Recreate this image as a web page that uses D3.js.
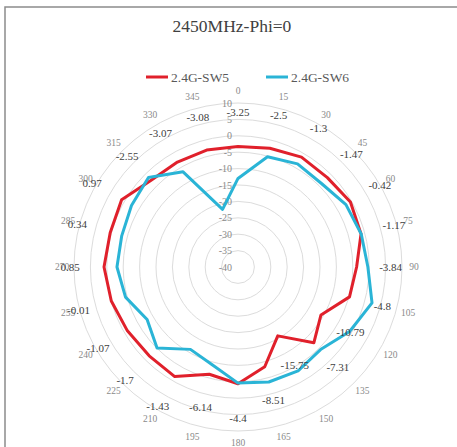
<!DOCTYPE html>
<html><head><meta charset="utf-8">
<script src="https://cdn.jsdelivr.net/npm/d3@7"></script>
<style>
html,body{margin:0;padding:0;background:#fff;}
svg{display:block;}
</style></head>
<body>
<svg id="chart" width="457" height="447"></svg>
<script>
const angles = [0,15,30,45,60,75,90,105,120,135,150,165,180,195,210,225,240,255,270,285,300,315,330,345];
const sw5 = [-3.25,-2.5,-1.3,-1.47,-0.42,-1.17,-3.84,-4.8,-10.79,-7.31,-15.75,-8.51,-4.4,-6.14,-1.43,-1.7,-1.07,-0.01,0.85,0.34,0.97,-2.55,-3.07,-3.08];
const sw6 = [-13,-5.2,-3.7,-4,-2,-1.1,-0.4,2.3,-0.7,-4.4,-3.4,-3.7,-4.6,-9.2,-11,-5.1,-8,-4.5,-3.1,-3.3,-2.5,-1.4,-6.5,-21.8];
const ringTicks = [-40,-35,-30,-25,-20,-15,-10,-5,0,5,10];
const seriesNames = ["2.4G-SW5","2.4G-SW6"];
const seriesColors = ["#e0202b","#2ab4d6"];
const title = "2450MHz-Phi=0";

const svg = d3.select("#chart");
const cx = 238, cy = 267, R = 164;
const font = "'Liberation Serif', 'DejaVu Serif', serif";

svg.append("rect").attr("x",5).attr("y",7).attr("width",470).attr("height",470)
  .attr("fill","#fff").attr("stroke","#8c8c8c").attr("stroke-width",1.5);

const r = d3.scaleLinear().domain([-40,10]).range([0,R]);
const a = d3.scaleLinear().domain([0,360]).range([0,2*Math.PI]);

const g = svg.append("g").attr("transform",`translate(${cx},${cy})`);

// rings
g.selectAll("circle.ring").data(ringTicks.filter(t=>t>-40)).join("circle")
  .attr("class","ring").attr("r",d=>r(d)).attr("fill","none")
  .attr("stroke","#dcdcdc").attr("stroke-width",1);

// ring labels
g.selectAll("text.rl").data(ringTicks).join("text")
  .attr("class","rl").attr("x",-6).attr("y",d=>-r(d))
  .attr("text-anchor","end").attr("dominant-baseline","central")
  .attr("font-family",font).attr("font-size",10).attr("fill","#8a8a8a")
  .text(d=>d);

// angle labels
g.selectAll("text.al").data(angles).join("text")
  .attr("class","al")
  .attr("x",d=>Math.sin(a(d))*(R+12))
  .attr("y",d=>-Math.cos(a(d))*(R+12))
  .attr("text-anchor","middle").attr("dominant-baseline","central")
  .attr("font-family",font).attr("font-size",9.5).attr("fill","#8a8a8a")
  .text(d=>d);

const line = d3.lineRadial().angle((d,i)=>a(angles[i])).radius(d=>r(d)).curve(d3.curveLinearClosed);

[sw5, sw6].forEach((s,k)=>{
  g.append("path").datum(s).attr("d",line).attr("fill","none")
    .attr("stroke",seriesColors[k]).attr("stroke-width",3).attr("stroke-linejoin","round");
});

// data labels (SW5)
g.selectAll("text.dl").data(sw5).join("text")
  .attr("class","dl")
  .attr("x",(d,i)=>Math.sin(a(angles[i]))*(r(d)+34))
  .attr("y",(d,i)=>-Math.cos(a(angles[i]))*(r(d)+34))
  .attr("text-anchor","middle").attr("dominant-baseline","central")
  .attr("font-family",font).attr("font-size",11).attr("fill","#404040")
  .text(d=>d);

// title
svg.append("text").attr("x",232).attr("y",26).attr("text-anchor","middle")
  .attr("dominant-baseline","central").attr("font-family",font).attr("font-size",17.5)
  .attr("fill","#404040").text(title);

// legend
const legX = [146, 266];
seriesNames.forEach((n,k)=>{
  svg.append("line").attr("x1",legX[k]).attr("x2",legX[k]+22).attr("y1",77).attr("y2",77)
    .attr("stroke",seriesColors[k]).attr("stroke-width",3);
  svg.append("text").attr("x",legX[k]+25).attr("y",77).attr("dominant-baseline","central")
    .attr("font-family",font).attr("font-size",13.5).attr("fill","#595959").text(n);
});
</script>
</body></html>
